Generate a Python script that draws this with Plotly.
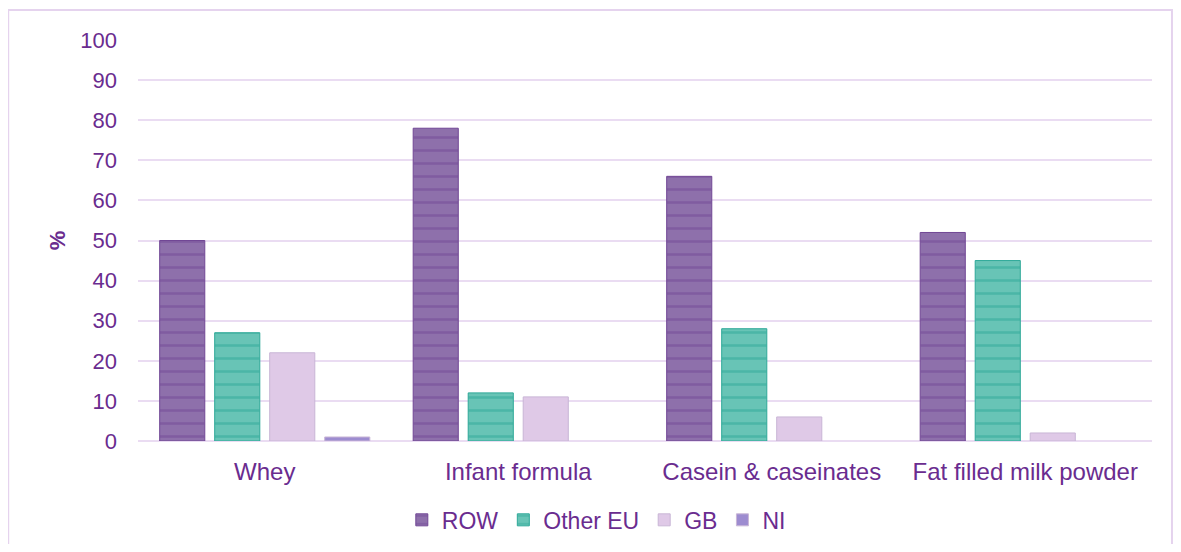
import plotly.graph_objects as go

categories = ["Whey", "Infant formula", "Casein & caseinates", "Fat filled milk powder"]
row_vals = [50, 78, 66, 52]
other_eu_vals = [27, 12, 28, 45]
gb_vals = [22, 11, 6, 2]
ni_vals = [1, 0, 0, 0]

series = [
    ("ROW", row_vals, "#8E70AB", "#714795", "-"),
    ("Other EU", other_eu_vals, "#68C4B6", "#2EA898", "-"),
    ("GB", gb_vals, "#DFC9E7", "#DFC9E7", ""),
    ("NI", ni_vals, "#9D8CD0", "#7D68B8", ""),
]

text_color = "#6A2C8F"
grid_color = "#EADCF2"

fig = go.Figure()
for name, vals, fill, stripe, shape in series:
    fig.add_trace(go.Bar(
        name=name, x=categories, y=vals,
        marker=dict(
            color=fill,
            line=dict(color=stripe if shape else "#C9B6D6",
                      width=[1 if v else 0 for v in vals]),
            pattern=dict(shape=shape, fgcolor=stripe, bgcolor=fill, size=13, solidity=0.2),
        ),
    ))

# page has an 8px body margin, so the figure is drawn 8px in from the top-left
fig.update_layout(
    width=1165, height=536,
    paper_bgcolor="white", plot_bgcolor="white",
    barmode="group", bargap=0.132, bargroupgap=0.18,
    font=dict(family="Arial, Liberation Sans, sans-serif", color=text_color, size=22),
    margin=dict(l=130, r=21, t=32, b=103),
    yaxis=dict(
        range=[0, 100], dtick=10, showgrid=True, gridcolor=grid_color, gridwidth=2,
        zeroline=True, zerolinecolor=grid_color, zerolinewidth=2, automargin=False,
        ticks="", ticklabelstandoff=20, tickfont=dict(size=22),
        title=dict(text="<b>%</b>", font=dict(size=22, color=text_color), standoff=8),
    ),
    xaxis=dict(showline=False, ticks="", tickfont=dict(size=24), ticklabelstandoff=14,
               automargin=False),
    legend=dict(
        orientation="h", yref="container", x=0.452, xanchor="center",
        y=0.045, yanchor="middle",
        font=dict(size=23, color=text_color), itemwidth=30, traceorder="normal",
    ),
    shapes=[dict(
        type="rect", xref="paper", yref="paper",
        x0=-0.128, x1=1.0197, y0=-0.3, y1=1.075,
        line=dict(color="#E5D3EE", width=2), fillcolor="rgba(0,0,0,0)", layer="below",
    )],
)

fig.write_html("out.html")
